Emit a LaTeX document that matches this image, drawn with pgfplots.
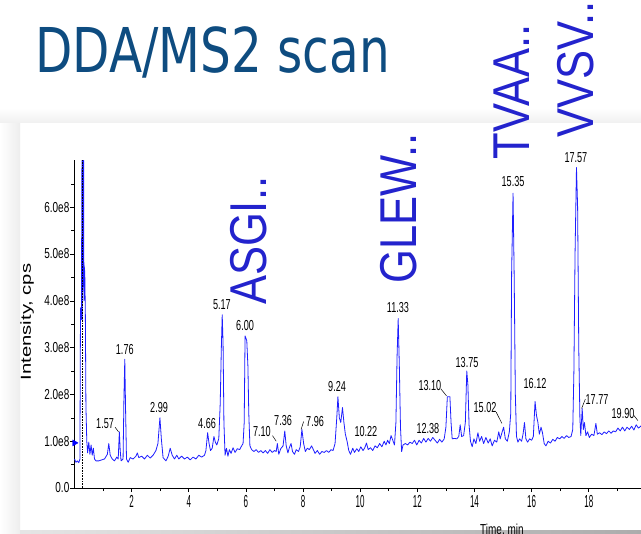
\documentclass[border=0pt]{standalone}
\usepackage{pgfplots}
\pgfplotsset{compat=1.18}
\usepackage{fontspec}
\setmainfont{Liberation Sans}
\newfontfamily\titlefont{DejaVu Sans}
\definecolor{trace}{RGB}{30,30,255}
\definecolor{pep}{RGB}{35,35,205}
\definecolor{ttl}{RGB}{14,76,128}
\newcommand{\sx}[1]{\scalebox{0.46}[1]{#1}}
\newcommand{\sy}[1]{\scalebox{0.69}[1]{#1}}
\tikzset{
  peak/.style={font=\fontsize{14.5}{14.5}\selectfont, inner sep=0pt, anchor=center},
  big/.style={font=\fontsize{52}{52}\selectfont, text=pep, inner sep=0pt, anchor=center, rotate=90, xscale=0.84},
}
\begin{document}
\begin{tikzpicture}
\useasboundingbox (0,0) rectangle (641bp,534bp);
\clip (0,0) rectangle (641bp,534bp);
\fill[white] (0,0) rectangle (641bp,534bp);
\shade[left color=white, right color=gray!14] (0,0) rectangle (20bp,411bp);
\shade[top color=white, bottom color=gray!12] (0,411bp) rectangle (641bp,426bp);
\shade[left color=gray!20, right color=gray!65] (20bp,0) rectangle (641bp,3bp);
\begin{axis}[
  at={(74.5bp,46bp)}, anchor=south west,
  scale only axis, width=571.4bp, height=327.6bp,
  xmin=0, xmax=20, ymin=0, ymax=7,
  axis lines=left, axis line style={-, black, line width=0.8bp},
  clip=false,
  tick align=outside,
  major tick length=4bp, minor tick length=3bp,
  tick style={black, line width=0.6bp},
  xtick={2,4,...,20},
  xticklabels={\sx{2},\sx{4},\sx{6},\sx{8},\sx{10},\sx{12},\sx{14},\sx{16},\sx{18},\sx{20}},
  minor xtick={1,3,...,19},
  ytick={0,1,...,6},
  yticklabels={\sy{0.0},\sy{1.0e8},\sy{2.0e8},\sy{3.0e8},\sy{4.0e8},\sy{5.0e8},\sy{6.0e8}},
  minor ytick={0.5,1.5,...,6.5},
  xticklabel style={font=\fontsize{17.5}{17.5}\selectfont, inner sep=1bp, yshift=-2bp},
  yticklabel style={font=\fontsize{14.5}{14.5}\selectfont, inner sep=1bp},
  ylabel={\scalebox{1.40}[1]{Intensity, cps}},
  ylabel style={at={(rel axis cs:-0.083,0.507)}, anchor=center, font=\fontsize{14.5}{14.5}\selectfont},
  xlabel={\scalebox{0.69}[1]{Time, min}},
  xlabel style={at={(rel axis cs:0.748,-0.128)}, anchor=center, font=\fontsize{14.5}{14.5}\selectfont},
]
\addplot[trace, line width=0.8bp, line join=round] coordinates {
(0.00,0.62)(0.05,0.55)(0.10,0.58)(0.15,0.54)(0.19,0.62)(0.21,3.85)(0.24,3.6)(0.26,7.0)(0.27,3.6)(0.28,7.0)(0.29,4.2)(0.30,7.0)(0.31,4.4)(0.32,7.0)(0.33,4.0)(0.34,4.75)(0.36,4.6)(0.38,3.7)(0.40,1.75)(0.43,1.0)(0.46,0.75)(0.50,0.98)(0.54,0.72)(0.58,0.92)(0.62,0.70)(0.66,0.85)(0.70,0.62)(0.75,0.58)(0.85,0.58)(0.95,0.60)(1.05,0.62)(1.15,0.72)(1.20,0.95)(1.25,0.70)(1.32,0.62)(1.40,0.58)(1.48,0.66)(1.53,0.62)(1.57,1.20)(1.60,0.80)(1.63,0.58)(1.70,0.62)(1.73,1.9)(1.76,2.75)(1.79,1.6)(1.82,0.62)(1.88,0.55)(1.95,0.65)(2.05,0.62)(2.15,0.68)(2.20,0.75)(2.25,0.65)(2.35,0.68)(2.45,0.62)(2.55,0.70)(2.65,0.64)(2.75,0.70)(2.85,0.80)(2.92,0.95)(2.99,1.50)(3.04,1.05)(3.10,0.65)(3.20,0.58)(3.28,0.68)(3.35,0.85)(3.42,0.70)(3.50,0.62)(3.58,0.70)(3.65,0.62)(3.75,0.68)(3.85,0.62)(3.95,0.66)(4.05,0.60)(4.15,0.66)(4.25,0.62)(4.35,0.70)(4.45,0.66)(4.55,0.70)(4.60,0.80)(4.66,1.18)(4.71,0.95)(4.76,0.80)(4.82,0.85)(4.88,1.10)(4.93,0.98)(4.98,0.92)(5.05,1.05)(5.10,1.80)(5.14,3.0)(5.17,3.70)(5.20,3.10)(5.23,1.40)(5.27,0.70)(5.32,0.85)(5.37,0.68)(5.42,0.82)(5.48,0.74)(5.55,0.86)(5.62,0.76)(5.70,0.84)(5.78,0.82)(5.85,0.90)(5.90,0.95)(5.94,1.40)(5.97,3.25)(6.03,3.15)(6.07,2.6)(6.10,1.6)(6.14,0.90)(6.20,0.82)(6.28,0.78)(6.36,0.82)(6.44,0.76)(6.52,0.80)(6.60,0.75)(6.68,0.80)(6.76,0.74)(6.84,0.82)(6.92,0.76)(7.00,0.80)(7.06,0.78)(7.10,0.95)(7.15,0.72)(7.22,0.84)(7.30,0.90)(7.36,1.22)(7.41,0.90)(7.47,0.75)(7.52,0.86)(7.58,0.95)(7.63,0.78)(7.70,0.72)(7.76,0.82)(7.84,0.78)(7.90,0.88)(7.96,1.25)(8.02,0.95)(8.08,0.78)(8.15,0.85)(8.22,0.82)(8.30,0.90)(8.36,0.82)(8.42,0.74)(8.50,0.80)(8.58,0.72)(8.66,0.78)(8.74,0.76)(8.82,0.80)(8.90,0.76)(8.98,0.82)(9.05,0.80)(9.12,0.95)(9.18,1.50)(9.22,1.95)(9.27,1.50)(9.32,1.40)(9.38,1.72)(9.43,1.40)(9.48,1.15)(9.54,1.0)(9.60,0.80)(9.66,0.72)(9.74,0.85)(9.80,0.76)(9.88,0.84)(9.95,0.78)(10.02,0.88)(10.10,0.80)(10.16,0.86)(10.22,0.96)(10.28,0.82)(10.36,0.86)(10.44,0.80)(10.52,0.90)(10.60,0.86)(10.68,0.95)(10.76,0.88)(10.84,1.00)(10.90,0.92)(10.96,1.02)(11.02,0.95)(11.08,1.12)(11.14,1.02)(11.20,0.92)(11.25,1.40)(11.29,2.8)(11.33,3.62)(11.37,2.6)(11.41,1.30)(11.45,0.78)(11.50,0.92)(11.58,0.95)(11.66,0.92)(11.74,0.98)(11.82,0.95)(11.90,1.02)(11.98,0.92)(12.06,1.02)(12.14,0.96)(12.22,1.06)(12.30,0.98)(12.38,1.06)(12.46,1.00)(12.54,1.08)(12.62,1.02)(12.70,0.96)(12.78,1.04)(12.86,0.98)(12.94,1.05)(13.00,1.30)(13.05,1.95)(13.14,1.95)(13.18,1.40)(13.22,1.05)(13.30,1.06)(13.38,1.05)(13.45,1.10)(13.50,1.35)(13.55,1.10)(13.62,1.12)(13.68,1.40)(13.73,2.50)(13.77,2.20)(13.81,1.35)(13.86,1.00)(13.92,0.88)(13.98,1.05)(14.05,0.95)(14.12,1.18)(14.18,1.00)(14.25,1.10)(14.32,0.95)(14.40,1.08)(14.48,0.96)(14.55,1.05)(14.62,0.90)(14.70,1.02)(14.78,0.98)(14.85,1.20)(14.90,1.05)(14.96,1.18)(15.02,1.30)(15.08,1.05)(15.15,1.00)(15.22,1.20)(15.27,1.60)(15.30,4.60)(15.35,6.30)(15.39,4.50)(15.43,2.0)(15.47,1.10)(15.52,0.98)(15.58,1.05)(15.65,1.00)(15.70,1.15)(15.75,1.40)(15.80,1.05)(15.86,0.98)(15.93,1.05)(16.00,1.02)(16.06,1.10)(16.12,1.85)(16.17,1.55)(16.22,1.40)(16.27,1.15)(16.33,1.30)(16.38,1.18)(16.44,0.95)(16.50,0.90)(16.58,1.00)(16.66,0.96)(16.74,1.04)(16.82,1.00)(16.90,1.08)(16.98,1.05)(17.06,1.10)(17.14,1.06)(17.22,1.12)(17.30,1.08)(17.38,1.10)(17.44,1.25)(17.48,2.50)(17.52,5.00)(17.57,6.85)(17.61,6.00)(17.65,3.00)(17.69,1.50)(17.72,1.12)(17.77,1.70)(17.81,1.25)(17.85,1.40)(17.90,1.12)(17.96,1.20)(18.02,1.08)(18.10,1.15)(18.18,1.12)(18.25,1.38)(18.30,1.15)(18.38,1.18)(18.46,1.14)(18.54,1.20)(18.62,1.16)(18.70,1.22)(18.78,1.17)(18.86,1.22)(18.94,1.20)(19.02,1.28)(19.10,1.22)(19.18,1.30)(19.26,1.22)(19.34,1.30)(19.42,1.25)(19.50,1.32)(19.58,1.24)(19.66,1.35)(19.74,1.28)(19.82,1.32)(19.90,1.38)(20.00,1.42)
};
\addplot[only marks, mark=triangle*, mark size=3.5bp, mark options={rotate=-90, fill=blue, draw=blue, xshift=-3bp}] coordinates {(0,0.9)};
\draw[black, densely dotted, line width=0.6bp] (axis cs:0.26,0) -- (axis cs:0.26,7);
% peak labels
\node[peak] at (axis cs:1.07,1.37) {\scalebox{0.63}[1]{1.57}};
\node[peak] at (axis cs:1.76,2.95) {\scalebox{0.63}[1]{1.76}};
\node[peak] at (axis cs:2.96,1.71) {\scalebox{0.63}[1]{2.99}};
\node[peak] at (axis cs:4.64,1.37) {\scalebox{0.63}[1]{4.66}};
\node[peak] at (axis cs:5.16,3.91) {\scalebox{0.63}[1]{5.17}};
\node[peak] at (axis cs:5.97,3.48) {\scalebox{0.63}[1]{6.00}};
\node[peak] at (axis cs:6.56,1.20) {\scalebox{0.63}[1]{7.10}};
\node[peak] at (axis cs:7.30,1.45) {\scalebox{0.63}[1]{7.36}};
\node[peak] at (axis cs:8.42,1.41) {\scalebox{0.63}[1]{7.96}};
\node[peak] at (axis cs:9.19,2.16) {\scalebox{0.63}[1]{9.24}};
\node[peak] at (axis cs:10.20,1.20) {\scalebox{0.63}[1]{10.22}};
\node[peak] at (axis cs:11.32,3.85) {\scalebox{0.63}[1]{11.33}};
\node[peak] at (axis cs:12.37,1.28) {\scalebox{0.63}[1]{12.38}};
\node[peak] at (axis cs:12.44,2.20) {\scalebox{0.63}[1]{13.10}};
\node[peak] at (axis cs:13.74,2.69) {\scalebox{0.63}[1]{13.75}};
\node[peak] at (axis cs:14.37,1.71) {\scalebox{0.63}[1]{15.02}};
\node[peak] at (axis cs:15.35,6.54) {\scalebox{0.63}[1]{15.35}};
\node[peak] at (axis cs:16.12,2.24) {\scalebox{0.63}[1]{16.12}};
\node[peak] at (axis cs:17.55,7.07) {\scalebox{0.63}[1]{17.57}};
\node[peak] at (axis cs:18.29,1.88) {\scalebox{0.63}[1]{17.77}};
\node[peak] at (axis cs:19.20,1.60) {\scalebox{0.63}[1]{19.90}};
% leaders
\draw[black, line width=0.5bp] (axis cs:1.42,1.30) -- (axis cs:1.54,1.20);
\draw[black, line width=0.5bp] (axis cs:6.93,1.12) -- (axis cs:7.06,1.00);
\draw[black, line width=0.5bp] (axis cs:7.93,1.25) -- (axis cs:8.02,1.42);
\draw[black, line width=0.5bp] (axis cs:12.82,2.12) -- (axis cs:13.02,1.97);
\draw[black, line width=0.5bp] (axis cs:14.76,1.62) -- (axis cs:14.96,1.38);
\draw[black, line width=0.5bp] (axis cs:17.75,1.70) -- (axis cs:17.88,1.90);
\draw[black, line width=0.5bp] (axis cs:19.58,1.55) -- (axis cs:19.72,1.44);
% peptide names
\node[big] at (axis cs:6.11,5.28) {ASGI..};
\node[big] at (axis cs:11.36,5.98) {GLEW..};
\node[big] at (axis cs:15.31,8.46) {TVAA..};
\node[big] at (axis cs:17.55,8.95) {VVSV..};
% title
\node[anchor=base west, inner sep=0pt, text=ttl, font=\titlefont\fontsize{62}{62}\selectfont, xscale=0.785] at (axis cs:-1.38,8.88) {DDA/MS2 scan};
\end{axis}
\end{tikzpicture}
\end{document}
